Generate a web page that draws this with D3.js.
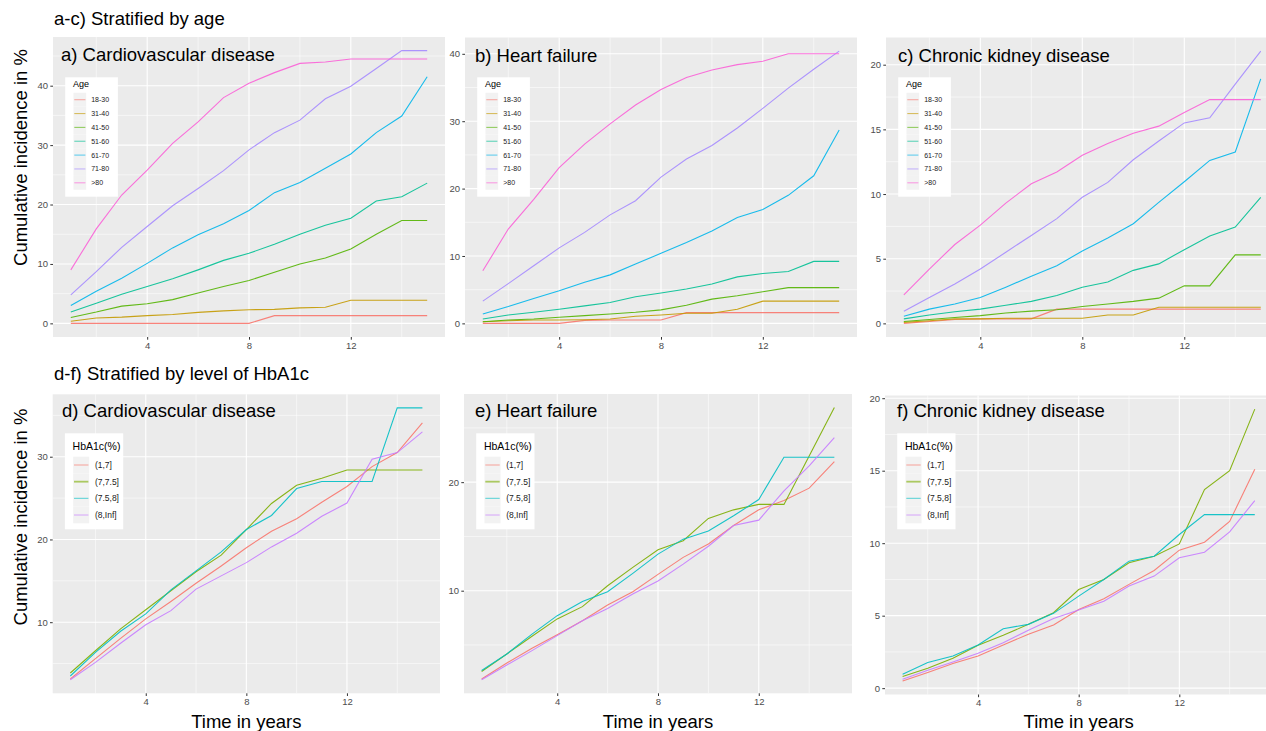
<!DOCTYPE html>
<html>
<head>
<meta charset="utf-8">
<script src="https://cdn.jsdelivr.net/npm/d3@7.9.0/dist/d3.min.js"></script>
<style>
  body { margin: 0; overflow: hidden; background: #fff; }
  svg { display: block; font-family: "Liberation Sans", Arial, sans-serif; }
</style>
</head>
<body>
<script>
// Follow-up years (x axis)
const years = [1, 2, 3, 4, 5, 6, 7, 8, 9, 10, 11, 12, 13, 14, 15];
const xTicks = [4, 8, 12];

// Groups and ggplot hue colours
const ageGroups = ["18-30", "31-40", "41-50", "51-60", "61-70", "71-80", ">80"];
const ageColors = ["#F8766D", "#C49A00", "#53B400", "#00C094", "#00B6EB", "#A58AFF", "#FB61D7"];
const hbaGroups = ["(1,7]", "(7,7.5]", "(7.5,8]", "(8,Inf]"];
const hbaColors = ["#F8766D", "#7CAE00", "#00BFC4", "#C77CFF"];

// a) Cardiovascular disease by age
const cvdByAge = [
  [0, 0, 0, 0, 0, 0, 0, 0, 1.3, 1.3, 1.3, 1.3, 1.3, 1.3, 1.3],
  [0.35, 0.9, 1.05, 1.3, 1.5, 1.85, 2.1, 2.3, 2.35, 2.6, 2.7, 3.9, 3.9, 3.9, 3.9],
  [1.0, 1.9, 2.9, 3.3, 4.0, 5.1, 6.2, 7.2, 8.6, 10.0, 11.0, 12.5, 15.0, 17.3, 17.3],
  [1.9, 3.4, 4.9, 6.2, 7.5, 9.0, 10.6, 11.8, 13.3, 15.0, 16.5, 17.7, 20.6, 21.3, 23.6],
  [3.0, 5.4, 7.6, 10.1, 12.7, 14.9, 16.75, 19.0, 22.0, 23.7, 26.1, 28.5, 32.1, 34.9, 41.5],
  [4.8, 8.7, 12.8, 16.3, 19.8, 22.7, 25.7, 29.2, 32.1, 34.2, 37.8, 39.9, 42.9, 45.9, 45.9],
  [9.0, 15.9, 21.6, 25.8, 30.3, 33.9, 38.0, 40.4, 42.2, 43.75, 44.0, 44.5, 44.5, 44.5, 44.5]
];
// b) Heart failure by age
const hfByAge = [
  [0, 0, 0, 0, 0.45, 0.5, 0.5, 0.5, 1.6, 1.6, 1.6, 1.6, 1.6, 1.6, 1.6],
  [0.25, 0.4, 0.5, 0.5, 0.55, 0.65, 1.05, 1.25, 1.5, 1.5, 2.1, 3.3, 3.3, 3.3, 3.3],
  [0.25, 0.5, 0.65, 0.9, 1.15, 1.4, 1.65, 2.0, 2.7, 3.6, 4.1, 4.7, 5.3, 5.3, 5.3],
  [0.65, 1.25, 1.65, 2.1, 2.6, 3.1, 3.95, 4.5, 5.1, 5.85, 6.9, 7.4, 7.7, 9.2, 9.2],
  [1.4, 2.5, 3.7, 4.85, 6.1, 7.2, 8.8, 10.4, 12.0, 13.7, 15.7, 16.9, 19.0, 21.9, 28.7],
  [3.3, 5.9, 8.55, 11.2, 13.5, 16.1, 18.2, 21.7, 24.4, 26.4, 29.0, 31.9, 34.9, 37.7, 40.4],
  [7.8, 14.0, 18.4, 23.1, 26.6, 29.6, 32.4, 34.7, 36.5, 37.6, 38.4, 38.9, 40.0, 40.0, 40.0]
];
// c) Chronic kidney disease by age
const ckdByAge = [
  [0, 0.15, 0.3, 0.35, 0.35, 0.35, 1.1, 1.1, 1.1, 1.1, 1.1, 1.1, 1.1, 1.1, 1.1],
  [0.08, 0.2, 0.35, 0.35, 0.4, 0.4, 0.4, 0.4, 0.65, 0.65, 1.25, 1.25, 1.25, 1.25, 1.25],
  [0.15, 0.3, 0.45, 0.6, 0.8, 0.95, 1.05, 1.3, 1.5, 1.7, 1.95, 2.9, 2.9, 5.3, 5.3],
  [0.35, 0.65, 0.9, 1.1, 1.4, 1.7, 2.15, 2.8, 3.2, 4.1, 4.6, 5.7, 6.75, 7.45, 9.75],
  [0.55, 1.1, 1.5, 2.0, 2.8, 3.65, 4.45, 5.6, 6.6, 7.7, 9.35, 10.95, 12.6, 13.25, 18.9],
  [0.93, 2.0, 3.05, 4.2, 5.5, 6.8, 8.1, 9.75, 10.9, 12.65, 14.1, 15.5, 15.9, 18.5, 21.05],
  [2.2, 4.2, 6.1, 7.6, 9.3, 10.8, 11.7, 13.0, 13.9, 14.7, 15.25, 16.3, 17.3, 17.3, 17.3]
];
// d) Cardiovascular disease by HbA1c
const cvdByHba = [
  [3.14, 5.6, 8.05, 10.4, 12.5, 14.7, 16.8, 19.0, 21.0, 22.5, 24.5, 26.4, 28.8, 30.5, 34.1],
  [3.86, 6.55, 9.2, 11.5, 13.8, 16.1, 18.1, 21.2, 24.35, 26.55, 27.4, 28.4, 28.4, 28.4, 28.4],
  [3.5, 6.35, 8.9, 11.0, 13.9, 16.2, 18.5, 21.2, 22.9, 26.15, 27.0, 27.0, 27.0, 35.9, 35.9],
  [3.05, 5.15, 7.45, 9.7, 11.4, 14.0, 15.6, 17.2, 19.1, 20.75, 22.8, 24.4, 29.7, 30.5, 33.0]
];
// e) Heart failure by HbA1c
const hfByHba = [
  [1.87, 3.34, 4.7, 5.95, 7.24, 8.68, 9.9, 11.5, 13.07, 14.3, 16.0, 17.45, 18.3, 19.45, 21.9],
  [2.55, 4.17, 5.8, 7.4, 8.53, 10.46, 12.15, 13.77, 14.6, 16.66, 17.45, 17.95, 17.95, 22.4, 26.87],
  [2.64, 4.17, 6.0, 7.7, 9.0, 9.9, 11.6, 13.37, 14.75, 15.5, 16.9, 18.4, 22.3, 22.3, 22.3],
  [1.8, 3.16, 4.48, 5.86, 7.24, 8.37, 9.7, 10.9, 12.45, 14.1, 16.0, 16.5, 19.2, 21.5, 24.1]
];
// f) Chronic kidney disease by HbA1c
const ckdByHba = [
  [0.5, 1.08, 1.7, 2.22, 2.98, 3.72, 4.36, 5.43, 6.17, 7.16, 8.12, 9.52, 10.07, 11.5, 15.1],
  [0.8, 1.38, 2.06, 2.96, 3.65, 4.4, 5.2, 6.8, 7.5, 8.65, 9.1, 9.95, 13.7, 15.0, 19.25],
  [0.96, 1.77, 2.22, 2.98, 4.1, 4.4, 5.16, 6.35, 7.5, 8.76, 9.1, 10.6, 11.97, 11.97, 11.97],
  [0.62, 1.24, 1.81, 2.41, 3.14, 4.0, 4.8, 5.39, 6.0, 7.04, 7.73, 8.99, 9.38, 10.78, 12.94]
];

const W = 1266, H = 731;
const svg = d3.select("body").append("svg").attr("width", W).attr("height", H);

// legend layouts for the two rows
const ageLegend = { title: "Age", top: 77.3, w: 52.7, h: 119.4, titleY: 87, titleSize: 9,
  rowStart: 99.7, rowStep: 13.85, keyW: 12.7, labelX: 26, labelSize: 7 };
const hbaLegend = { title: "HbA1c(%)", top: 433.3, w: 58.3, h: 96, titleY: 450, titleSize: 10.5,
  rowStart: 465, rowStep: 16.67, keyW: 16, labelX: 30, labelSize: 8.5 };

const panels = [
  { title: "a) Cardiovascular disease", data: cvdByAge, groups: ageGroups, colors: ageColors, legend: ageLegend,
    x0: 53, x1: 445, y0: 37, y1: 337, yStep: 10, titleX: 61, titleY: 61, xTitle: false },
  { title: "b) Heart failure", data: hfByAge, groups: ageGroups, colors: ageColors, legend: ageLegend,
    x0: 465, x1: 857, y0: 37.5, y1: 337, yStep: 10, titleX: 475, titleY: 61.5, xTitle: false },
  { title: "c) Chronic kidney disease", data: ckdByAge, groups: ageGroups, colors: ageColors, legend: ageLegend,
    x0: 886, x1: 1278.6, y0: 37.5, y1: 337, yStep: 5, titleX: 898, titleY: 61.5, xTitle: false },
  { title: "d) Cardiovascular disease", data: cvdByHba, groups: hbaGroups, colors: hbaColors, legend: hbaLegend,
    x0: 52.7, x1: 440, y0: 394.3, y1: 693.3, yStep: 10, titleX: 62, titleY: 417, xTitle: true },
  { title: "e) Heart failure", data: hfByHba, groups: hbaGroups, colors: hbaColors, legend: hbaLegend,
    x0: 464, x1: 852, y0: 394, y1: 693.3, yStep: 10, titleX: 475, titleY: 417, xTitle: true },
  { title: "f) Chronic kidney disease", data: ckdByHba, groups: hbaGroups, colors: hbaColors, legend: hbaLegend,
    x0: 885, x1: 1272.4, y0: 395.5, y1: 694.5, yStep: 5, titleX: 897, titleY: 417, xTitle: true }
];

panels.forEach((p, pi) => {
  const g = svg.append("g");

  // ggplot-style 5% expansion
  const xExt = d3.extent(years), xPad = (xExt[1] - xExt[0]) * 0.05;
  const all = p.data.flat();
  const yExt = d3.extent(all), yPad = (yExt[1] - yExt[0]) * 0.05;
  const x = d3.scaleLinear().domain([xExt[0] - xPad, xExt[1] + xPad]).range([p.x0, p.x1]);
  const y = d3.scaleLinear().domain([yExt[0] - yPad, yExt[1] + yPad]).range([p.y1, p.y0]);

  g.append("rect").attr("x", p.x0).attr("y", p.y0)
    .attr("width", p.x1 - p.x0).attr("height", p.y1 - p.y0).attr("fill", "#ebebeb");

  // gridlines
  const yMajor = d3.range(Math.ceil(y.domain()[0] / p.yStep) * p.yStep, y.domain()[1], p.yStep);
  const yMinor = d3.range(Math.ceil((y.domain()[0] - p.yStep / 2) / p.yStep) * p.yStep + p.yStep / 2, y.domain()[1], p.yStep)
    .filter(v => v > y.domain()[0]);
  const xMinor = [2, 6, 10, 14];

  g.selectAll(".ymin").data(yMinor).enter().append("line")
    .attr("x1", p.x0).attr("x2", p.x1).attr("y1", d => y(d)).attr("y2", d => y(d))
    .attr("stroke", "#fff").attr("stroke-width", 0.55);
  g.selectAll(".xmin").data(xMinor).enter().append("line")
    .attr("y1", p.y0).attr("y2", p.y1).attr("x1", d => x(d)).attr("x2", d => x(d))
    .attr("stroke", "#fff").attr("stroke-width", 0.55);
  g.selectAll(".ymaj").data(yMajor).enter().append("line")
    .attr("x1", p.x0).attr("x2", p.x1).attr("y1", d => y(d)).attr("y2", d => y(d))
    .attr("stroke", "#fff").attr("stroke-width", 1.1);
  g.selectAll(".xmaj").data(xTicks).enter().append("line")
    .attr("y1", p.y0).attr("y2", p.y1).attr("x1", d => x(d)).attr("x2", d => x(d))
    .attr("stroke", "#fff").attr("stroke-width", 1.1);

  // axes
  const yAxis = g.append("g").attr("transform", `translate(${p.x0},0)`)
    .call(d3.axisLeft(y).tickValues(yMajor).tickSize(2.7).tickPadding(2.2).tickFormat(d3.format("d")));
  const xAxis = g.append("g").attr("transform", `translate(0,${p.y1})`)
    .call(d3.axisBottom(x).tickValues(xTicks).tickSize(2.7).tickPadding(2.2));
  [yAxis, xAxis].forEach(a => {
    a.select(".domain").remove();
    a.selectAll(".tick line").attr("stroke", "#333").attr("stroke-width", 1);
    a.selectAll(".tick text").attr("fill", "#4d4d4d").style("font-size", "9.5px")
      .style("font-family", "'Liberation Sans', Arial, sans-serif");
  });

  // lines
  const clipId = "clip" + pi;
  svg.append("clipPath").attr("id", clipId).append("rect")
    .attr("x", p.x0).attr("y", p.y0).attr("width", p.x1 - p.x0).attr("height", p.y1 - p.y0);
  const line = d3.line().x((d, i) => x(years[i])).y(d => y(d));
  g.append("g").attr("clip-path", `url(#${clipId})`)
    .selectAll("path").data(p.data).enter().append("path")
    .attr("d", line).attr("fill", "none")
    .attr("stroke", (d, i) => p.colors[i]).attr("stroke-width", 1.1).attr("stroke-opacity", 0.9);

  // panel title
  g.append("text").attr("x", p.titleX).attr("y", p.titleY)
    .attr("fill", "#000").style("font-size", "18.5px").text(p.title);

  // legend
  const L = p.legend;
  const lx = p.x0 + 12.2;
  const lg = g.append("g");
  lg.append("rect").attr("x", lx).attr("y", L.top).attr("width", L.w).attr("height", L.h).attr("fill", "#fff");
  lg.append("text").attr("x", lx + 7.7).attr("y", L.titleY).attr("fill", "#000")
    .style("font-size", L.titleSize + "px").text(L.title);
  const rows = lg.selectAll(".row").data(p.groups).enter().append("g")
    .attr("transform", (d, i) => `translate(${lx + 8.3},${L.rowStart + i * L.rowStep})`);
  rows.append("rect").attr("x", 0).attr("y", -L.rowStep / 2).attr("width", L.keyW).attr("height", L.rowStep)
    .attr("fill", "#f2f2f2");
  rows.append("line").attr("x1", 0.8).attr("x2", L.keyW - 0.8).attr("y1", 0).attr("y2", 0)
    .attr("stroke", (d, i) => p.colors[i]).attr("stroke-width", (d, i) => p.groups === hbaGroups && i === 1 ? 1.8 : 1.1)
    .attr("stroke-opacity", 0.6);
  rows.append("text").attr("x", L.labelX - 8.3).attr("y", 0).attr("dy", "0.35em")
    .attr("fill", "#1a1a1a").style("font-size", L.labelSize + "px").text(d => d);

  if (p.xTitle) {
    g.append("text").attr("x", (p.x0 + p.x1) / 2).attr("y", 728).attr("text-anchor", "middle")
      .attr("fill", "#000").style("font-size", "18.5px").text("Time in years");
  }
});

// row titles
svg.append("text").attr("x", 54).attr("y", 25).style("font-size", "18.5px").attr("fill", "#000")
  .text("a-c) Stratified by age");
svg.append("text").attr("x", 54).attr("y", 380).style("font-size", "18.5px").attr("fill", "#000")
  .text("d-f) Stratified by level of HbA1c");

// y axis titles
[157.5, 517].forEach(cy => {
  svg.append("text").attr("transform", `translate(26.5,${cy}) rotate(-90)`)
    .attr("text-anchor", "middle").style("font-size", "18.5px").attr("fill", "#000")
    .text("Cumulative incidence in %");
});
</script>
</body>
</html>
